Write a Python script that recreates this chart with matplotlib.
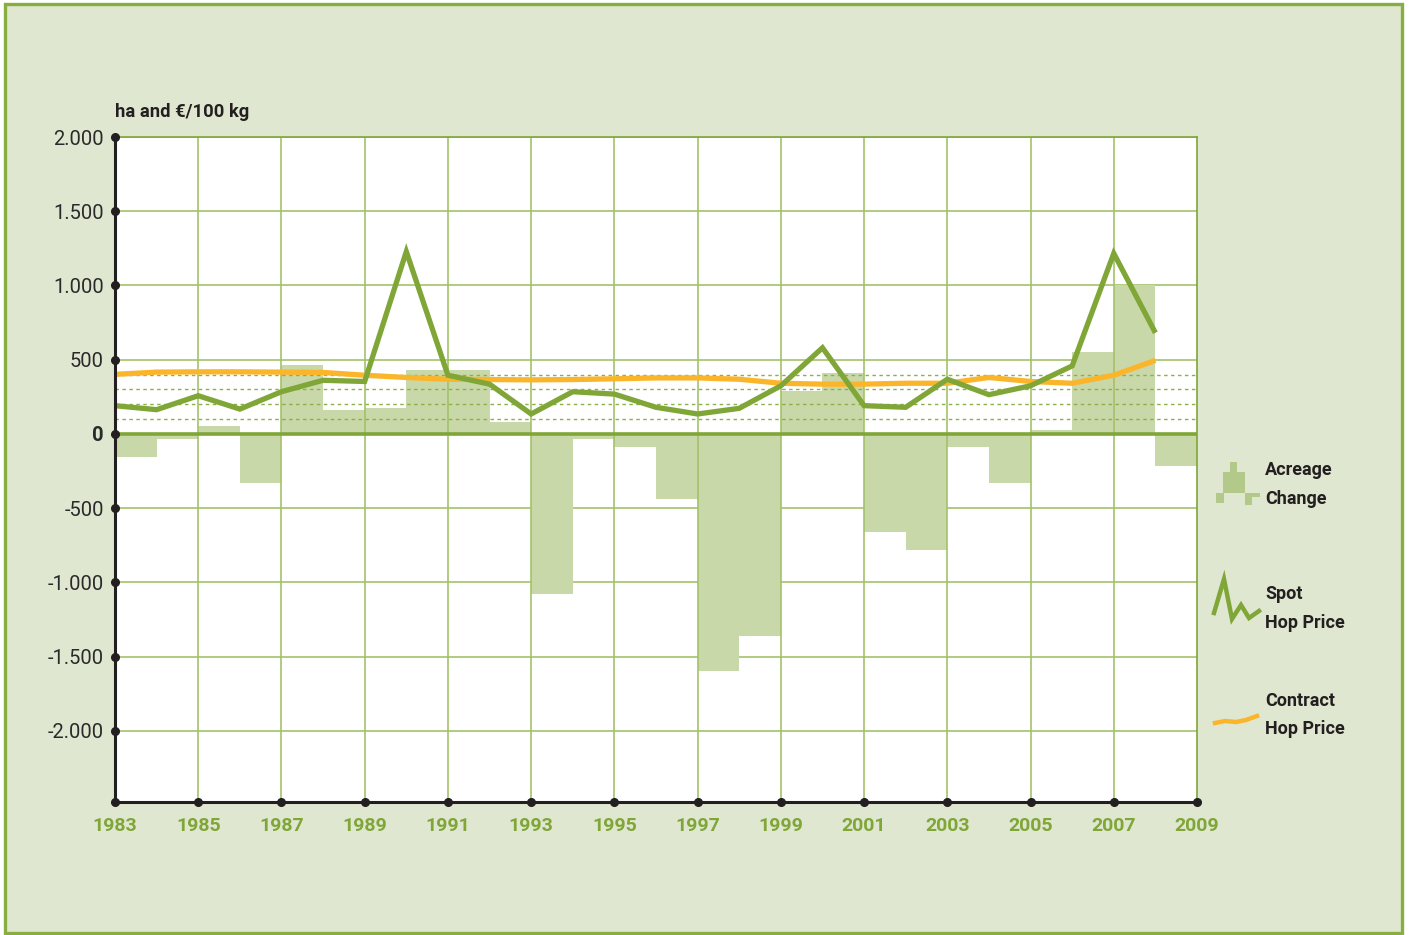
import matplotlib
matplotlib.use('agg')
import matplotlib.pyplot as plt
from matplotlib.patches import Rectangle
import numpy as np

plt.rcParams['font.family'] = ['Roboto', 'DejaVu Sans']

years = list(range(1983, 2009))
acreage_change = [-154, -33, 52, -328, 464, 159, 174, 433, 433, 80,
                  -1078, -33, -89, -441, -1600, -1365, 286, 413, -658, -785,
                  -89, -328, 25, 553, 1000, -216]
spot_price = [190, 163, 257, 167, 284, 361, 353, 1228, 395, 335,
              134, 284, 268, 179, 134, 172, 324, 580, 190, 179,
              368, 264, 324, 458, 1216, 681]
contract_price = [401, 416, 418, 418, 416, 414, 395, 380, 368, 366,
                  364, 366, 371, 377, 377, 368, 341, 335, 335, 341,
                  341, 380, 353, 341, 395, 495]

y_ticks = [2000, 1500, 1000, 500, 0, -500, -1000, -1500, -2000]
y_labels = ['2.000', '1.500', '1.000', '500', '0', '-500', '-1.000', '-1.500', '-2.000']
x_ticks = list(range(1983, 2010, 2))
dotted_levels = [100, 200, 300, 400]

BG = '#e0e7d0'
GREEN = '#7fa637'
GRID = '#a3c26a'
BAR = '#c9d8a8'
ORANGE = '#fbb52b'
DARK = '#231f20'

W, H = 1411, 935
fig = plt.figure(figsize=(W / 100, H / 100), dpi=100, facecolor='white')

# overlay in pixel coords for frame + legend
ov = fig.add_axes([0, 0, 1, 1], zorder=0)
ov.set_xlim(0, W)
ov.set_ylim(H, 0)
ov.axis('off')
ov.add_patch(Rectangle((5, 4), 1397, 929, facecolor=BG, edgecolor='#87ae3e', lw=2.4))

ax = fig.add_axes([115 / W, 1 - 802 / H, (1197 - 115) / W, (802 - 137) / H], zorder=1)
ax.set_facecolor('white')
ax.set_xlim(1983, 2009)
ax.set_ylim(-2480, 2000)

for yv in y_ticks:
    ax.axhline(yv, color=GRID, lw=1.2, zorder=0.5)
ax.bar(years, acreage_change, width=1, align='edge', color=BAR, zorder=1)
for xv in x_ticks[1:-1]:
    ax.axvline(xv, color=GRID, lw=1.2, zorder=1.5)
for yv in dotted_levels:
    ax.axhline(yv, color='#8cb048', lw=1.0, ls=(0, (2.5, 2.5)), zorder=1.5)
ax.axhline(0, color=GREEN, lw=2.6, zorder=2)

ax.plot(years, contract_price, color=ORANGE, lw=3.8, zorder=3, solid_capstyle='butt')
ax.plot(years, spot_price, color=GREEN, lw=3.8, zorder=4, solid_joinstyle='miter',
        solid_capstyle='butt')

for s in ['top', 'right']:
    ax.spines[s].set_color(GREEN)
    ax.spines[s].set_linewidth(1.2)
for s in ['left', 'bottom']:
    ax.spines[s].set_color(DARK)
    ax.spines[s].set_linewidth(2.2)
    ax.spines[s].set_zorder(5)

ax.plot([1983] * len(y_ticks), y_ticks, 'o', color=DARK, ms=5.5, clip_on=False, zorder=6)
ax.plot(x_ticks, [-2480] * len(x_ticks), 'o', color=DARK, ms=5.5, clip_on=False, zorder=6)

ax.set_yticks(y_ticks)
ax.set_yticklabels(y_labels)
ax.set_xticks(x_ticks)
ax.set_xticklabels([str(x) for x in x_ticks])
ax.tick_params(axis='y', length=0, pad=8, labelsize=14.5, labelcolor='#2a2a2a')
ax.tick_params(axis='x', length=0, pad=11, labelsize=14, labelcolor=GREEN)
for t in ax.get_xticklabels():
    t.set_fontweight('bold')
ax.get_yticklabels()[4].set_fontweight('bold')

ov.text(115, 112, 'ha and €/100 kg', fontsize=13.2, fontweight='bold', color=DARK,
        ha='left', va='center')

# legend glyphs
ic = '#b3c98a'
for (x0, y0, w, h) in [(1230, 462, 7, 11), (1223, 472, 22, 21), (1216, 493, 8, 10),
                       (1245, 493, 15, 4), (1245, 497, 7, 8)]:
    ov.add_patch(Rectangle((x0, y0), w, h, facecolor=ic, edgecolor='none'))
ov.plot([1214, 1224, 1232, 1241, 1249, 1259], [613, 579, 619, 605, 618, 611],
        color=GREEN, lw=3.2, solid_joinstyle='miter')
ov.plot([1215, 1225, 1236, 1246, 1257], [723, 721, 722, 720, 716], color=ORANGE, lw=3.2)

for label, y in [('Acreage', 470), ('Change', 499), ('Spot', 594), ('Hop Price', 623),
                 ('Contract', 701), ('Hop Price', 729)]:
    ov.text(1265, y, label, fontsize=13, fontweight='bold', color=DARK, ha='left', va='center')

fig.savefig('out.png', dpi=100, facecolor='white')
